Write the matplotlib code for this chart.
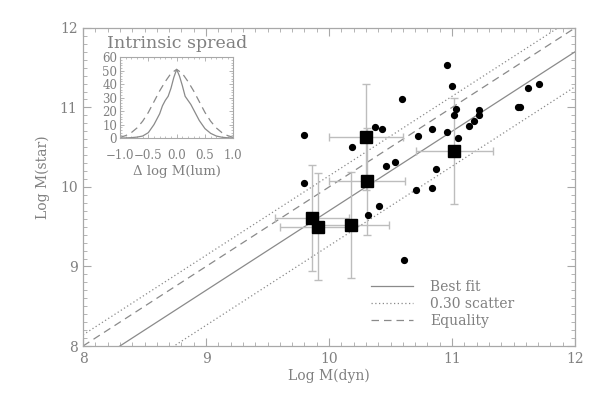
import matplotlib
matplotlib.use("Agg")
import matplotlib.pyplot as plt
from matplotlib.ticker import MultipleLocator
import numpy as np

# ---- data ----
dot_x = [9.80, 9.80, 10.19, 10.37, 10.43, 10.59, 10.46, 10.54, 10.72, 10.84,
         10.96, 10.96, 11.00, 11.03, 11.02, 11.05, 10.87, 10.71, 10.84, 10.41,
         10.32, 10.61, 11.14, 11.18, 11.22, 11.22, 11.54, 11.55, 11.62, 11.71]
dot_y = [10.65, 10.05, 10.50, 10.76, 10.73, 11.11, 10.26, 10.31, 10.64, 10.73,
         10.69, 11.54, 11.27, 10.98, 10.91, 10.62, 10.23, 9.96, 9.99, 9.76,
         9.65, 9.08, 10.77, 10.83, 10.91, 10.97, 11.01, 11.00, 11.24, 11.30]

sq_x = [9.86, 9.91, 10.18, 10.30, 10.31, 11.02]
sq_y = [9.61, 9.50, 9.52, 10.63, 10.07, 10.45]
sq_xerr = [0.30, 0.31, 0.31, 0.30, 0.31, 0.31]
sq_yerr = [0.67, 0.67, 0.67, 0.67, 0.67, 0.67]

line_x = [8.0, 12.0]
fit_slope = 1.0
fit_intercept = -0.30
scatter_offset = 0.44

# inset curves
spread_x_dashed = [-1.0, -0.9, -0.8, -0.7, -0.6, -0.5, -0.4, -0.3, -0.2, -0.1, 0.0,
                   0.1, 0.2, 0.3, 0.4, 0.5, 0.6, 0.7, 0.8, 0.9, 1.0]
spread_y_dashed = [0.5, 1.8, 4.0, 7.5, 12.5, 19.0, 27.0, 35.0, 42.0, 48.0, 51.0,
                   48.0, 42.0, 35.0, 27.0, 19.0, 12.5, 7.5, 4.0, 1.8, 0.5]
spread_x_solid = [-1.0, -0.9, -0.8, -0.7, -0.6, -0.5, -0.4, -0.3, -0.25, -0.2, -0.15,
                  -0.1, -0.05, 0.0, 0.05, 0.1, 0.15, 0.2, 0.25, 0.3, 0.4, 0.5, 0.6,
                  0.7, 0.8, 0.9, 1.0]
spread_y_solid = [0.0, 0.1, 0.3, 0.7, 1.5, 4.0, 10.0, 18.0, 24.0, 28.0, 31.0,
                  37.0, 45.0, 51.0, 46.0, 39.0, 31.0, 28.0, 25.0, 21.0, 13.0, 7.0, 3.5,
                  1.5, 0.6, 0.2, 0.0]

legend_labels = ["Best fit", "0.30 scatter", "Equality"]

# ---- style ----
plt.rcParams['font.family'] = ['DejaVu Serif']
TXT = '#808080'
LINE = '#8a8a8a'
ERR = '#bdbdbd'
SPINE = '#a8a8a8'

fig = plt.figure(figsize=(5.99, 3.99), dpi=100)
ax = fig.add_axes([0.1386, 0.1328, 0.8214, 0.7972])

lx = np.array(line_x)
fit_y = fit_slope * lx + fit_intercept
ax.plot(lx, fit_y, color=LINE, lw=0.9, label=legend_labels[0], zorder=2)
ax.plot(lx, fit_y + scatter_offset, color=LINE, lw=0.9, ls=(0, (1, 2)),
        label=legend_labels[1], zorder=2)
ax.plot(lx, fit_y - scatter_offset, color=LINE, lw=0.9, ls=(0, (1, 2)), zorder=2)
ax.plot(lx, lx, color=LINE, lw=0.9, ls=(0, (6, 4)), label=legend_labels[2], zorder=2)

ax.errorbar(sq_x, sq_y, xerr=sq_xerr, yerr=sq_yerr, fmt='none', ecolor=ERR,
            elinewidth=1.0, capsize=3, capthick=1.0, zorder=3)
ax.plot(sq_x, sq_y, 's', color='black', ms=8.5, zorder=5, ls='none')
ax.plot(dot_x, dot_y, 'o', color='black', ms=4.2, zorder=4, ls='none')

ax.set_xlim(8, 12)
ax.set_ylim(8, 12)
ax.xaxis.set_major_locator(MultipleLocator(1))
ax.yaxis.set_major_locator(MultipleLocator(1))
ax.xaxis.set_minor_locator(MultipleLocator(0.1))
ax.yaxis.set_minor_locator(MultipleLocator(0.1))
ax.tick_params(which='both', direction='in', top=True, right=True, color=SPINE,
               labelcolor=TXT, labelsize=10)
ax.tick_params(which='major', length=6, width=0.8)
ax.tick_params(which='minor', length=3, width=0.6)
ax.tick_params(axis='x', which='major', pad=4)
ax.tick_params(axis='y', which='major', pad=4)
for s in ax.spines.values():
    s.set_color(SPINE)
    s.set_linewidth(0.9)

ax.set_xlabel("Log M(dyn)", color=TXT, fontsize=10)
ax.xaxis.set_label_coords(0.5, -0.072)
ax.set_ylabel("Log M(star)", color=TXT, fontsize=10)
ax.yaxis.set_label_coords(-0.068, 0.53)

leg = ax.legend(loc='upper left', bbox_to_anchor=(0.575, 0.225), frameon=False,
                handlelength=3.0, handletextpad=1.2, labelspacing=0.22,
                fontsize=10, borderaxespad=0)
for t in leg.get_texts():
    t.set_color(TXT)

# ---- inset ----
ins = fig.add_axes([0.2003, 0.654, 0.1892, 0.2025])
ins.plot(spread_x_solid, spread_y_solid, color=LINE, lw=0.9)
ins.plot(spread_x_dashed, spread_y_dashed, color=LINE, lw=0.9, ls=(0, (6, 4)))
ins.set_xlim(-1, 1)
ins.set_ylim(0, 60)
ins.xaxis.set_minor_locator(MultipleLocator(0.1))
ins.yaxis.set_major_locator(MultipleLocator(10))
ins.yaxis.set_minor_locator(MultipleLocator(2))
ins.set_xticks([-1.0, -0.5, 0.0, 0.5, 1.0])
ins.set_xticklabels(["\u22121.0", "\u22120.5", "0.0", "0.5", "1.0"])
ins.tick_params(which='both', direction='in', top=True, right=True, color=SPINE,
                labelcolor=TXT, labelsize=8.5)
ins.tick_params(which='major', length=3, width=0.6, pad=2)
ins.tick_params(which='minor', length=1.5, width=0.5)
ins.tick_params(axis='x', which='major', pad=8)
for s in ins.spines.values():
    s.set_color(SPINE)
    s.set_linewidth(0.8)
ins.set_title("Intrinsic spread", color=TXT, fontsize=12.5, pad=7)
ins.set_xlabel("\u0394 log M(lum)", color=TXT, fontsize=9.5, labelpad=2)

fig.savefig("out.png", dpi=100)
